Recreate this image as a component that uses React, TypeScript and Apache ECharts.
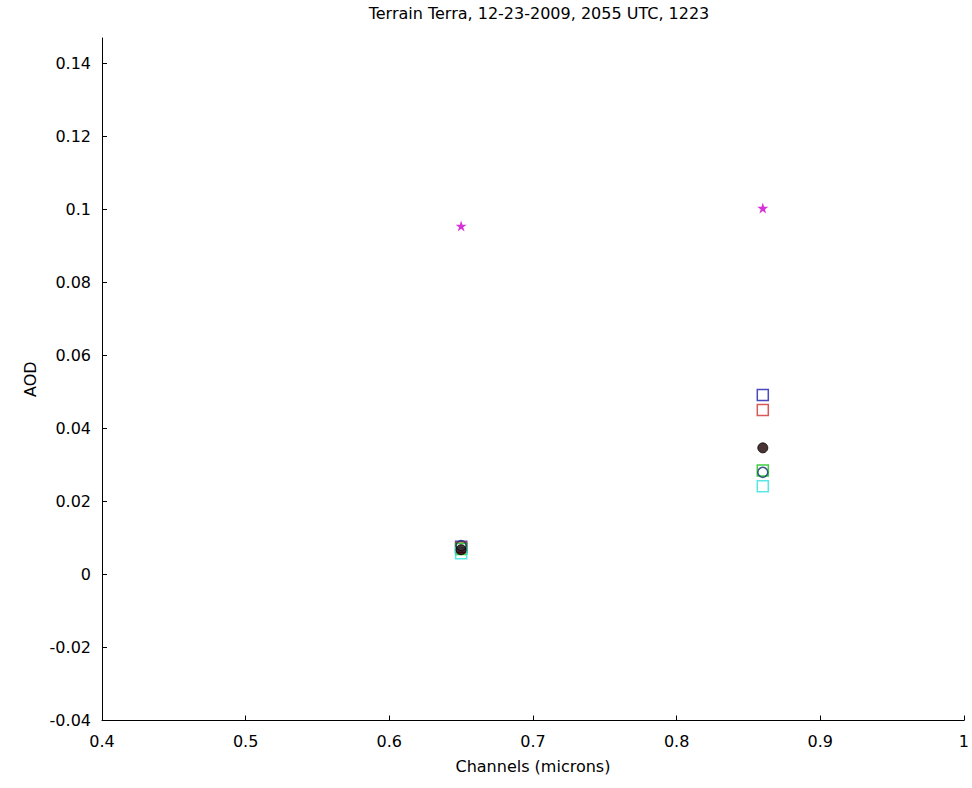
import React, { useEffect, useRef } from "react";
import * as echarts from "echarts";

const channels = [0.65, 0.86];
const blueSquare = [0.0076, 0.0492];
const redSquare = [0.0074, 0.0451];
const greenSquare = [0.007, 0.0285];
const cyanSquare = [0.0058, 0.0242];
const blueCircle = [0.0079, 0.028];
const filledCircle = [0.0068, 0.0347];
const magentaStar = [0.0955, 0.1004];
const yTicks = [-0.04, -0.02, 0, 0.02, 0.04, 0.06, 0.08, 0.1, 0.12, 0.14];
const xTicks = [0.4, 0.5, 0.6, 0.7, 0.8, 0.9, 1];

const STAR =
  "path://M0,-100 L22.45,-30.9 L95.1,-30.9 L36.3,11.8 L58.8,80.9 L0,38.2 L-58.8,80.9 L-36.3,11.8 L-95.1,-30.9 L-22.45,-30.9 Z";

const pts = (vals: number[]) => channels.map((c, i) => [c, vals[i]]);

export default function App() {
  const ref = useRef<HTMLDivElement>(null);
  useEffect(() => {
    const chart = echarts.init(ref.current!, null, { renderer: "svg" });
    const font = "DejaVu Sans, Verdana, sans-serif";
    const hollow = (name: string, vals: number[], symbol: string, color: string, size: number) => ({
      name,
      type: "scatter",
      data: pts(vals),
      symbol,
      symbolSize: size,
      itemStyle: { color: "rgba(255,255,255,0)", borderColor: color, borderWidth: 1.5 },
    });
    chart.setOption({
      animation: false,
      backgroundColor: "#ffffff",
      title: {
        text: "Terrain Terra, 12-23-2009, 2055 UTC, 1223",
        left: 534,
        textAlign: "center",
        top: 0,
        textStyle: { fontFamily: font, fontSize: 16, fontWeight: "normal", color: "#000" },
      },
      grid: { left: 102, right: 2, top: 38, bottom: 67.5, containLabel: false },
      xAxis: {
        type: "value",
        min: 0.4,
        max: 1,
        interval: 0.1,
        name: "Channels (microns)",
        nameLocation: "middle",
        nameGap: 38,
        nameTextStyle: { fontFamily: font, fontSize: 16, color: "#000" },
        splitLine: { show: false },
        axisLine: { show: true, onZero: false, lineStyle: { color: "#000", width: 1 } },
        axisTick: { show: true, inside: true, length: 5, lineStyle: { color: "#000" }, customValues: xTicks },
        axisLabel: {
          fontFamily: font,
          fontSize: 16,
          color: "#000",
          margin: 13,
          customValues: xTicks,
          formatter: (v: number) => String(Math.round(v * 10) / 10),
        },
      },
      yAxis: {
        type: "value",
        min: -0.04,
        max: 0.147,
        interval: 0.02,
        name: "AOD",
        nameLocation: "middle",
        nameGap: 62,
        nameRotate: 90,
        nameTextStyle: { fontFamily: font, fontSize: 16, color: "#000" },
        splitLine: { show: false },
        axisLine: { show: true, onZero: false, lineStyle: { color: "#000", width: 1 } },
        axisTick: { show: true, inside: true, length: 5, lineStyle: { color: "#000" }, customValues: yTicks },
        axisLabel: {
          fontFamily: font,
          fontSize: 16,
          color: "#000",
          margin: 11,
          customValues: yTicks,
          formatter: (v: number) => String(Math.round(v * 100) / 100),
        },
      },
      series: [
        hollow("blueSquare", blueSquare, "rect", "#1a1ab0", 11),
        hollow("redSquare", redSquare, "rect", "#d03030", 11),
        hollow("greenSquare", greenSquare, "rect", "#10c010", 11),
        hollow("cyanSquare", cyanSquare, "rect", "#30e0e0", 11),
        hollow("blueCircle", blueCircle, "circle", "#103070", 10),
        {
          name: "filledCircle",
          type: "scatter",
          data: pts(filledCircle),
          symbol: "circle",
          symbolSize: 10,
          itemStyle: { color: "#1e0000", borderColor: "#000", borderWidth: 1 },
        },
        {
          name: "magentaStar",
          type: "scatter",
          data: pts(magentaStar),
          symbol: STAR,
          symbolSize: 11,
          itemStyle: { color: "#cc00cc" },
        },
      ],
    });
    return () => chart.dispose();
  }, []);
  return <div ref={ref} style={{ width: 972, height: 788, position: "absolute", left: 0, top: 0 }} />;
}
